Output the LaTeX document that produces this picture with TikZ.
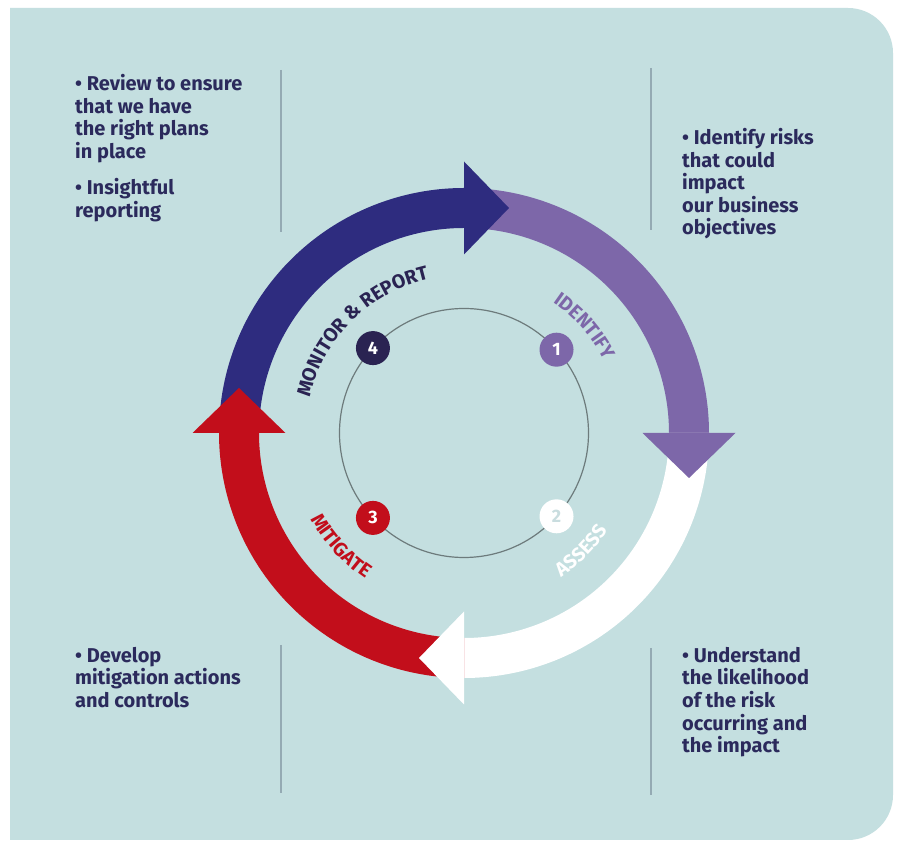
\documentclass[tikz,border=0pt]{standalone}
\usepackage{fontspec}
\setmainfont{Fira Sans}
\usepackage{xcolor}
\usetikzlibrary{calc}
\usetikzlibrary{decorations.text}
\definecolor{bgteal}{HTML}{C4DFE0}
\definecolor{navytext}{HTML}{2B2A5C}
\definecolor{monitorblue}{HTML}{2E2C7F}
\definecolor{identifypurple}{HTML}{7D67A9}
\definecolor{mitigatered}{HTML}{C20E1B}
\definecolor{stepfour}{HTML}{2A2352}
\definecolor{dividergrey}{HTML}{94AAB3}
\definecolor{ringgrey}{HTML}{6D7B7C}
\definecolor{assessdigit}{HTML}{C9DDDF}
\newcommand{\infofont}{\fontsize{20}{22.6}\selectfont\bfseries}
\newcommand{\ringfont}{\fontsize{19.5}{19.5}\selectfont\bfseries}
\tikzset{
  divider/.style={draw=dividergrey, line width=2.5pt},
  info/.style={anchor=north west, align=left, inner sep=0pt, font=\infofont, text=navytext},
  stepdot/.style={circle, minimum size=34pt, inner sep=0pt, font=\fontsize{18}{18}\selectfont\bfseries, text=white},
  ringlabel/.style={decorate, decoration={text along path, text align=center, text={#1}}},
}
\begin{document}
\begin{tikzpicture}[x=1pt, y=1pt]
\useasboundingbox (0,0) rectangle (898,841);
\fill[white] (0,0) rectangle (898,841);
\fill[bgteal] (10,1) -- (10,833) [rounded corners=45pt] -- (893,833) -- (893,1) [sharp corners] -- cycle;
\coordinate (c) at (464,408);
% dividers
\draw[divider] (281,771) -- (281,609);
\draw[divider] (651,773) -- (651,611);
\draw[divider] (281,196) -- (281,48);
\draw[divider] (651,193) -- (651,46);
% ring
\fill[monitorblue] ($(c)+(180:245pt)$) arc[start angle=180, end angle=89, radius=245pt] -- ($(c)+(89:205pt)$) arc[start angle=89, end angle=180, radius=205pt] -- cycle;
\fill[identifypurple] ($(c)+(90:245pt)$) arc[start angle=90, end angle=-1, radius=245pt] -- ($(c)+(-1:205pt)$) arc[start angle=-1, end angle=90, radius=205pt] -- cycle;
\fill[white] ($(c)+(0:245pt)$) arc[start angle=0, end angle=-91, radius=245pt] -- ($(c)+(-91:205pt)$) arc[start angle=-91, end angle=0, radius=205pt] -- cycle;
\fill[mitigatered] ($(c)+(-90:245pt)$) arc[start angle=-90, end angle=-181, radius=245pt] -- ($(c)+(-181:205pt)$) arc[start angle=-181, end angle=-90, radius=205pt] -- cycle;
\fill[monitorblue] ($(c)+(90:178.5pt)$) -- ($(c)+(90:271.5pt)$) -- ($(c)+(90:225pt)+(0:45pt)$) -- cycle;
\fill[identifypurple] ($(c)+(0:178.5pt)$) -- ($(c)+(0:271.5pt)$) -- ($(c)+(0:225pt)+(-90:45pt)$) -- cycle;
\fill[white] ($(c)+(-90:178.5pt)$) -- ($(c)+(-90:271.5pt)$) -- ($(c)+(-90:225pt)+(180:45pt)$) -- cycle;
\fill[mitigatered] ($(c)+(180:178.5pt)$) -- ($(c)+(180:271.5pt)$) -- ($(c)+(180:225pt)+(90:45pt)$) -- cycle;
% inner circle and steps
\draw[ringgrey, line width=1.2pt] (c) circle[radius=124.5pt];
\node[stepdot, fill=identifypurple] (one) at ($(c)+(42:124.5pt)$) {1};
\node[stepdot, fill=white, text=assessdigit] (two) at ($(c)+(-42:124.5pt)$) {2};
\node[stepdot, fill=mitigatered] (three) at ($(c)+(223:124.5pt)$) {3};
\node[stepdot, fill=stepfour] (four) at ($(c)+(137:124.5pt)$) {4};
\path[ringlabel={|\ringfont\color{stepfour}|MONITOR {\&} REPORT}] ($(c)+(180:158pt)$) arc[start angle=180, end angle=90, radius=158pt];
\path[ringlabel={|\ringfont\color{identifypurple}|IDENTIFY}] ($(c)+(81.5:158pt)$) arc[start angle=81.5, end angle=1.5, radius=158pt];
\path[ringlabel={|\ringfont\color{white}|ASSESS}] ($(c)+(-90:174pt)$) arc[start angle=-90, end angle=0, radius=174pt];
\path[ringlabel={|\ringfont\color{mitigatered}|MITIGATE}] ($(c)+(177.6:176pt)$) arc[start angle=177.6, end angle=267.6, radius=176pt];
% texts
\node[info] (review) at (75,767) {• Review to ensure\\that we have\\the right plans\\in place\\[14pt]• Insightful\\reporting};
\node[info] (identifyinfo) at (682,713) {• Identify risks\\that could\\impact\\our business\\objectives};
\node[info] (developinfo) at (75,194) {• Develop\\mitigation actions\\and controls};
\node[info] (understandinfo) at (682,194) {• Understand\\the likelihood\\of the risk\\occurring and\\the impact};
\end{tikzpicture}
\end{document}
